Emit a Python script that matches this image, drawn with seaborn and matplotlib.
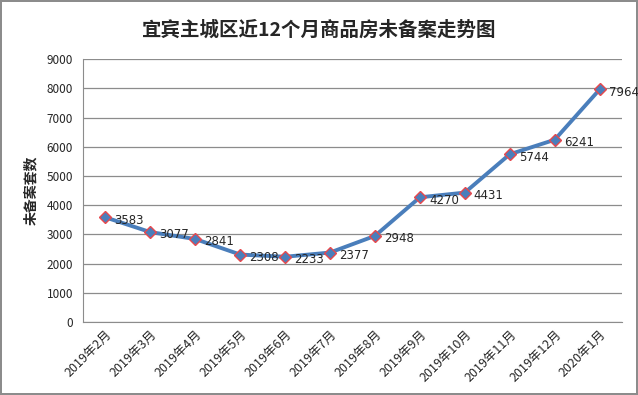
import seaborn as sns
import matplotlib.pyplot as plt
import pandas as pd

months = ["2019年2月", "2019年3月", "2019年4月", "2019年5月", "2019年6月", "2019年7月",
          "2019年8月", "2019年9月", "2019年10月", "2019年11月", "2019年12月", "2020年1月"]
counts = [3583, 3077, 2841, 2308, 2233, 2377, 2948, 4270, 4431, 5744, 6241, 7964]
y_ticks = [0, 1000, 2000, 3000, 4000, 5000, 6000, 7000, 8000, 9000]

sns.set_style("white")
plt.rcParams['font.family'] = ['Noto Sans CJK SC', 'DejaVu Sans']

data = pd.DataFrame({"month": months, "count": counts})

fig = plt.figure(figsize=(6.38, 3.95), dpi=100)
ax = fig.add_axes([0.130, 0.185, 0.845, 0.665])

sns.lineplot(data=data, x="month", y="count", ax=ax, color="#4a7ebb", linewidth=2.8,
             marker="D", markersize=6, markerfacecolor="#4a7ebb",
             markeredgecolor="#e8484d", markeredgewidth=1.0, sort=False)

for i, v in enumerate(counts):
    ax.annotate(str(v), (i, v), xytext=(6.5, -2), textcoords="offset points",
                fontsize=8.5, va="center", ha="left", family="DejaVu Sans")

ax.set_xlim(-0.5, len(months) - 0.5)
ax.set_ylim(0, 9000)
ax.set_yticks(y_ticks)
ax.set_xticks(range(len(months)))
ax.set_xticklabels(months, rotation=45, ha="right", rotation_mode="anchor", fontsize=9)
ax.tick_params(axis="y", labelsize=8.5, length=0, pad=7)
ax.tick_params(axis="x", length=0, pad=4)
ax.grid(axis="y", color="#8c8c8c", linewidth=0.9)
ax.set_axisbelow(True)
for s in ["top", "right"]:
    ax.spines[s].set_visible(False)
ax.spines["left"].set_color("#8c8c8c")
ax.spines["bottom"].set_color("#8c8c8c")
ax.set_xlabel("")
ax.set_ylabel("未备案套数", fontsize=10, fontweight="bold", labelpad=6)

fig.text(0.5, 0.923, "宜宾主城区近12个月商品房未备案走势图", ha="center", va="center",
         fontsize=14, fontweight="bold")

fig.patch.set_edgecolor("#8c8c8c")
fig.patch.set_linewidth(1.5)
fig.savefig("out.png", dpi=100, edgecolor=fig.get_edgecolor())
